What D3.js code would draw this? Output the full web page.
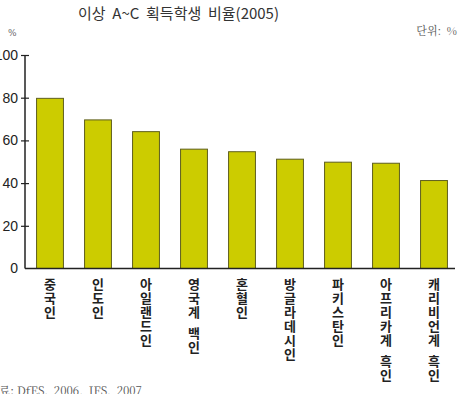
<!DOCTYPE html>
<html>
<head>
<meta charset="utf-8">
<script src="https://cdn.jsdelivr.net/npm/d3@7"></script>
<style>
  body { margin: 0; background: #fff; }
  svg { display: block; }
  text { white-space: pre; }
</style>
</head>
<body>
<svg></svg>
<script>
const width = 458;
const height = 394;

const categories = ["중국인", "인도인", "아일랜드인", "영국계 백인", "혼혈인", "방글라데시인", "파키스탄인", "아프리카계 흑인", "캐리비언계 흑인"];
const values = [79.7, 69.6, 64.1, 55.9, 54.7, 51.2, 49.8, 49.3, 41.2];
const yTicks = [0, 20, 40, 60, 80, 100];

const svg = d3.select("svg").attr("width", width).attr("height", height);

const x = d3.scaleBand()
  .domain(categories)
  .range([26, 458])
  .paddingInner(0.44)
  .paddingOuter(0.22);

const y = d3.scaleLinear()
  .domain([0, 100])
  .range([268.5, 55]);

// title and notes
svg.append("text")
  .attr("x", 78).attr("y", 19)
  .attr("font-family", "'Noto Sans CJK KR', sans-serif")
  .attr("font-size", 15)
  .attr("fill", "#333")
  .text("이상  A~C  획득학생  비율(2005)");

svg.append("text")
  .attr("x", 8).attr("y", 36)
  .attr("font-family", "'DejaVu Serif', serif")
  .attr("font-size", 9)
  .attr("fill", "#666")
  .text("%");

svg.append("text")
  .attr("x", 457).attr("y", 35)
  .attr("text-anchor", "end")
  .attr("font-family", "'Noto Serif CJK KR', 'Liberation Serif', serif")
  .attr("font-size", 11)
  .attr("fill", "#555")
  .text("단위:  %");

svg.append("text")
  .attr("x", -12).attr("y", 395)
  .attr("font-family", "'Noto Serif CJK KR', 'Liberation Serif', serif")
  .attr("font-size", 11.5)
  .attr("fill", "#555")
  .text("자료: DfES,  2006,  IFS,  2007");

// bars
svg.selectAll(".bar")
  .data(values)
  .enter()
  .append("rect")
  .attr("class", "bar")
  .attr("x", (d, i) => x(categories[i]))
  .attr("y", d => y(d))
  .attr("width", x.bandwidth())
  .attr("height", d => y(0) - y(d))
  .attr("fill", "#cccc00")
  .attr("stroke", "#5e5e1e")
  .attr("stroke-width", 1);

// y axis
const yAxis = d3.axisLeft(y).tickValues(yTicks).tickSize(4).tickPadding(3);
const yG = svg.append("g")
  .attr("transform", "translate(25,0)")
  .call(yAxis);
yG.select(".domain").attr("stroke", "#222").attr("stroke-width", 1.5).attr("d", `M0,${y(100)}V${y(0)}`);
yG.selectAll(".tick line").attr("x1", -4).attr("x2", 4).attr("stroke", "#222").attr("stroke-width", 1.2);
yG.selectAll(".tick").filter(d => d === 0).select("line").remove();
yG.selectAll(".tick text")
  .attr("font-family", "'Liberation Sans', Arial, sans-serif")
  .attr("font-size", 14)
  .attr("fill", "#222");

// x axis baseline
const xAxis = d3.axisBottom(x).tickSize(0).tickFormat("");
const xG = svg.append("g")
  .attr("transform", `translate(0,${y(0)})`)
  .call(xAxis);
xG.select(".domain").attr("stroke", "#222").attr("stroke-width", 1.5).attr("d", "M25,0H455");

// vertical category labels, one character per line
const labels = svg.selectAll(".cat")
  .data(categories)
  .enter()
  .append("text")
  .attr("class", "cat")
  .attr("text-anchor", "middle")
  .attr("font-family", "'Noto Sans CJK KR', sans-serif")
  .attr("font-size", 13)
  .attr("font-weight", 700)
  .attr("fill", "#222");

labels.each(function(d) {
  const t = d3.select(this);
  const cx = x(d) + x.bandwidth() / 2;
  let yy = 288.5;
  for (const ch of d) {
    if (ch === " ") { yy += 7; continue; }
    t.append("tspan").attr("x", cx).attr("y", yy).text(ch);
    yy += 14;
  }
});
</script>
</body>
</html>
